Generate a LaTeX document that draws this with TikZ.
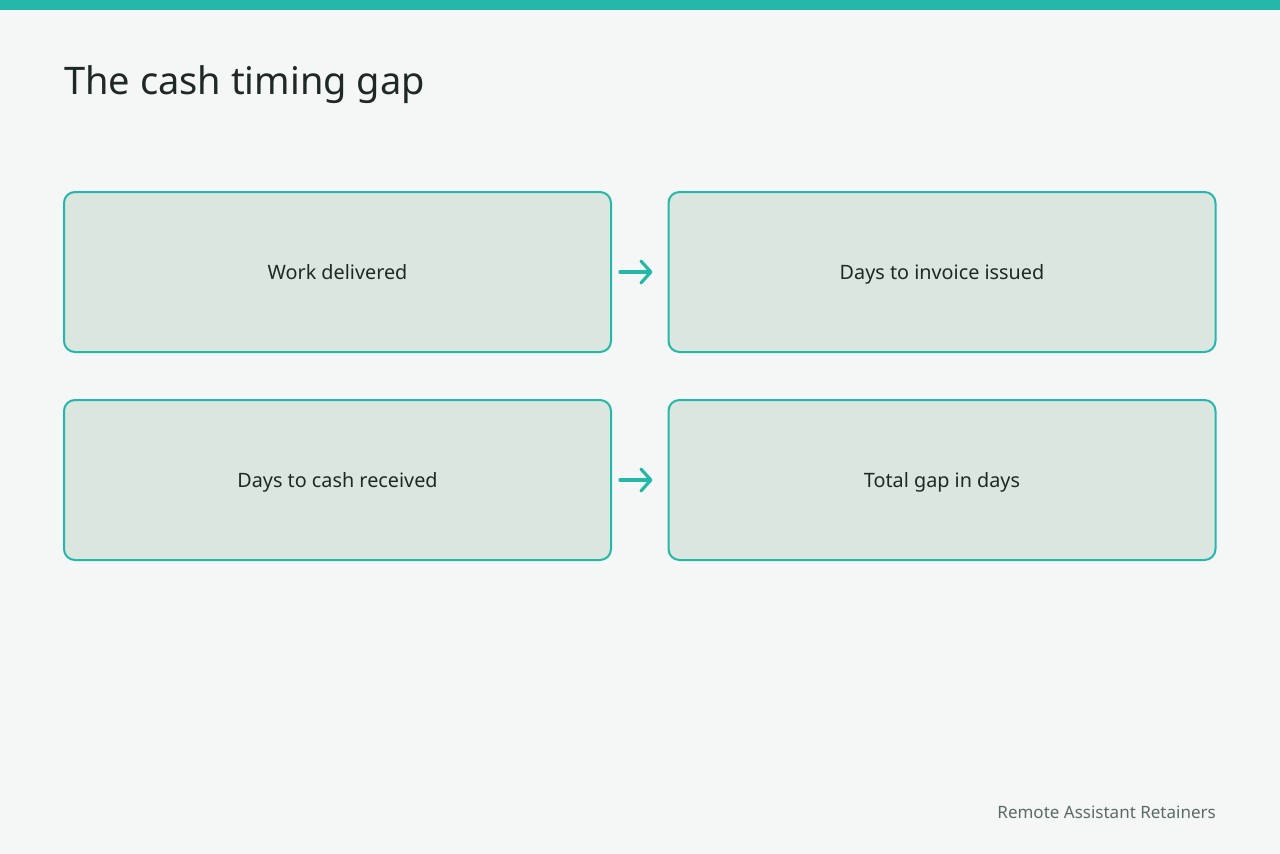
\documentclass[tikz,border=0pt]{standalone}
\usepackage{fontspec}
\setmainfont{Noto Sans}
\usetikzlibrary{arrows.meta}
\definecolor{bg}{HTML}{F5F7F6}
\definecolor{teal}{HTML}{24B8A8}
\definecolor{boxfill}{HTML}{DCE6E0}
\definecolor{ink}{HTML}{1E2925}
\definecolor{foot}{HTML}{5B6B63}
\tikzset{
  stepbox/.style={draw=teal, line width=2pt, fill=boxfill, rounded corners=11pt,
    minimum width=547pt, minimum height=160pt, inner sep=0pt, text=ink,
    text height=15pt, text depth=0pt,
    font=\fontsize{19.8}{23}\selectfont},
  flow/.style={draw=teal, line width=3.2pt, line cap=round, -{Straight Barb[length=10pt,width=22pt,line width=3.2pt,round]}}
}
\begin{document}
\begin{tikzpicture}[x=1pt,y=-1pt]
\fill[bg] (0,0) rectangle (1280,854);
\useasboundingbox (0,0) rectangle (1280,854);
\fill[teal] (0,0) rectangle (1280,10);
\node[anchor=base west, text=ink, font=\fontsize{38}{44}\selectfont, inner sep=0pt] (title) at (64,94) {The cash timing gap};
\node[stepbox] (a) at (337.5,272) {Work delivered};
\node[stepbox] (b) at (942,272) {Days to invoice issued};
\node[stepbox] (c) at (337.5,480) {Days to cash received};
\node[stepbox] (d) at (942,480) {Total gap in days};
\draw[flow] ([xshift=8pt]a.east) -- ([xshift=-15pt]b.west);
\draw[flow] ([xshift=8pt]c.east) -- ([xshift=-15pt]d.west);
\node[anchor=base east, text=foot, font=\fontsize{17}{20}\selectfont, inner sep=0pt] (footer) at (1216,818) {Remote Assistant Retainers};
\end{tikzpicture}
\end{document}
